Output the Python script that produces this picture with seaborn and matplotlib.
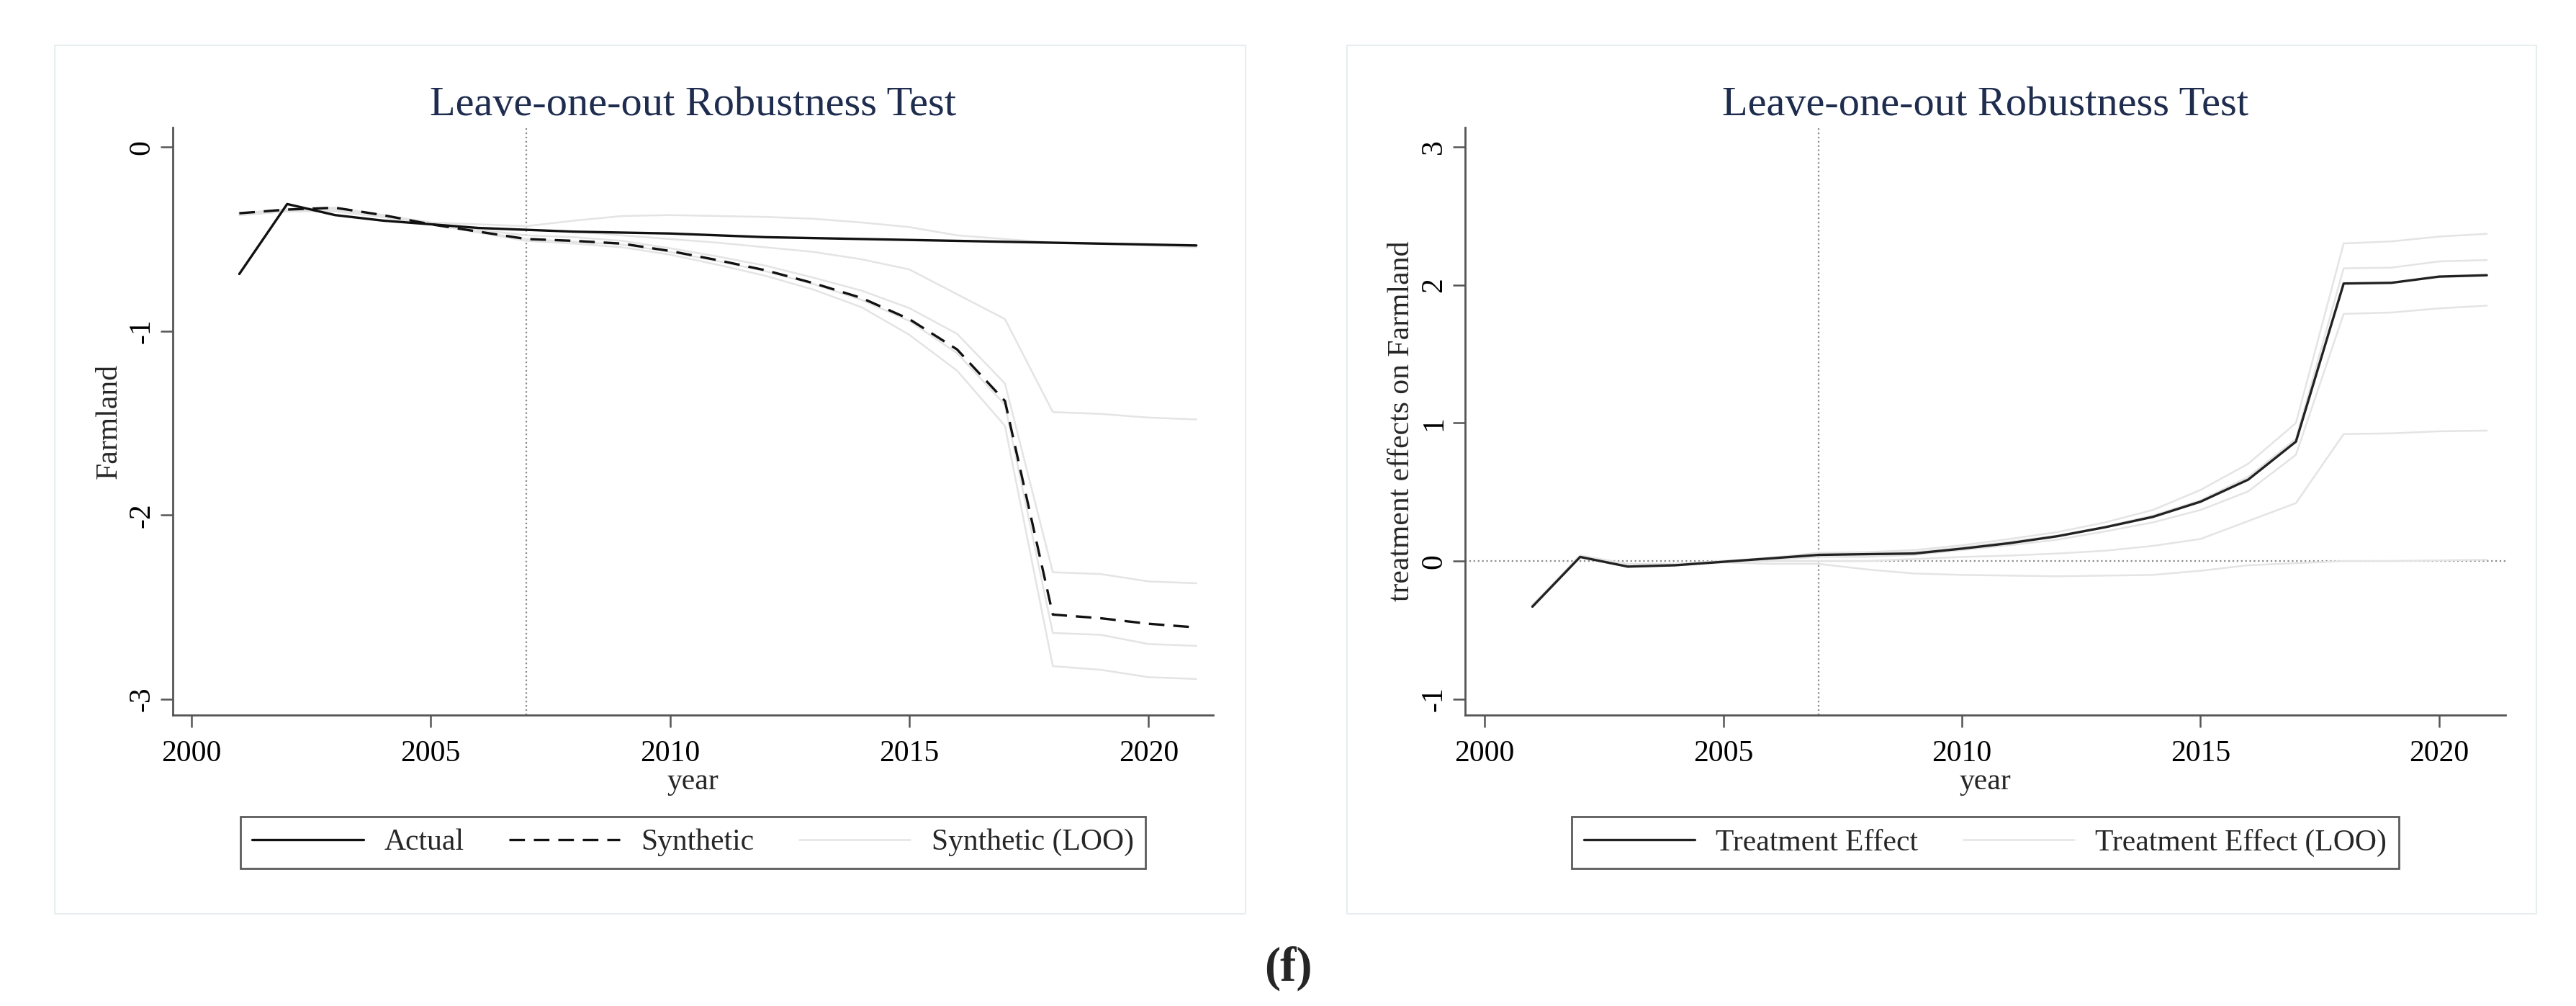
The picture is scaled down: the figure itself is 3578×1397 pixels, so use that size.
import numpy as np
import pandas as pd
import matplotlib
matplotlib.use("Agg")
import matplotlib.pyplot as plt
from matplotlib.lines import Line2D
from matplotlib.patches import Rectangle
import seaborn as sns

years = list(range(2001, 2022))

# left panel: Farmland, actual vs synthetic
actual = [-0.69, -0.31, -0.37, -0.40, -0.42, -0.44, -0.45, -0.46, -0.465, -0.47, -0.48,
          -0.49, -0.495, -0.50, -0.505, -0.51, -0.515, -0.52, -0.525, -0.53, -0.535]
synthetic = [-0.36, -0.34, -0.33, -0.37, -0.42, -0.46, -0.50, -0.51, -0.525, -0.565, -0.615,
             -0.67, -0.74, -0.82, -0.935, -1.10, -1.38, -2.54, -2.56, -2.59, -2.61]
loo_a = [-0.37, -0.35, -0.35, -0.38, -0.41, -0.42, -0.43, -0.40, -0.375, -0.37, -0.375,
         -0.38, -0.39, -0.41, -0.435, -0.48, -0.50, -0.52, -0.525, -0.535, -0.545]
loo_b = [-0.37, -0.34, -0.34, -0.38, -0.42, -0.44, -0.45, -0.46, -0.48, -0.50, -0.52,
         -0.545, -0.57, -0.61, -0.665, -0.80, -0.935, -1.44, -1.45, -1.47, -1.48]
loo_c = [-0.36, -0.34, -0.33, -0.37, -0.41, -0.45, -0.48, -0.49, -0.51, -0.55, -0.595,
         -0.645, -0.71, -0.78, -0.875, -1.015, -1.285, -2.31, -2.32, -2.36, -2.37]
loo_d = [-0.36, -0.34, -0.33, -0.37, -0.42, -0.46, -0.50, -0.515, -0.53, -0.57, -0.62,
         -0.675, -0.745, -0.83, -0.945, -1.12, -1.40, -2.64, -2.65, -2.70, -2.71]
loo_e = [-0.37, -0.35, -0.34, -0.38, -0.42, -0.465, -0.51, -0.525, -0.545, -0.585, -0.64,
         -0.70, -0.775, -0.87, -1.02, -1.215, -1.515, -2.82, -2.84, -2.88, -2.89]

# right panel: treatment effects
effect = [-0.33, 0.03, -0.04, -0.03, -0.005, 0.02, 0.045, 0.05, 0.055, 0.09, 0.13,
          0.18, 0.245, 0.32, 0.43, 0.59, 0.865, 2.01, 2.015, 2.06, 2.07]
eff_a = [-0.32, 0.04, -0.02, -0.02, -0.01, -0.02, -0.02, -0.06, -0.09, -0.10, -0.105,
         -0.11, -0.105, -0.10, -0.07, -0.03, -0.015, 0.0, 0.0, 0.005, 0.01]
eff_b = [-0.32, 0.03, -0.03, -0.02, 0.0, 0.0, 0.0, 0.0, 0.015, 0.03, 0.04,
         0.055, 0.075, 0.11, 0.16, 0.29, 0.42, 0.92, 0.925, 0.94, 0.945]
eff_c = [-0.33, 0.03, -0.04, -0.03, -0.01, 0.01, 0.03, 0.03, 0.045, 0.08, 0.115,
         0.155, 0.215, 0.28, 0.37, 0.505, 0.77, 1.79, 1.80, 1.83, 1.85]
eff_d = [-0.33, 0.03, -0.04, -0.03, 0.0, 0.02, 0.05, 0.055, 0.065, 0.10, 0.14,
         0.185, 0.25, 0.33, 0.44, 0.61, 0.885, 2.12, 2.125, 2.17, 2.18]
eff_e = [-0.32, 0.04, -0.03, -0.02, 0.0, 0.025, 0.06, 0.065, 0.08, 0.115, 0.16,
         0.21, 0.28, 0.37, 0.515, 0.705, 1.00, 2.30, 2.315, 2.35, 2.37]

treat_year = 2007
xticks = [2000, 2005, 2010, 2015, 2020]
left_yticks = [0, -1, -2, -3]
right_yticks = [3, 2, 1, 0, -1]

sns.set_style("ticks")
plt.rcParams['font.family'] = ['Liberation Serif', 'DejaVu Serif']
plt.rcParams['axes.unicode_minus'] = False

def long_form(runs):
    rows = []
    for k, vals in enumerate(runs):
        for yr, v in zip(years, vals):
            rows.append({'year': yr, 'value': v, 'run': k})
    return pd.DataFrame(rows)

loo_left = long_form([loo_a, loo_b, loo_c, loo_d, loo_e])
loo_right = long_form([eff_a, eff_b, eff_c, eff_d, eff_e])

W, H = 3578, 1397
fig = plt.figure(figsize=(W / 100, H / 100), dpi=100)
ax1 = fig.add_axes([240 / W, 1 - 993 / H, 1445 / W, 816 / H])
ax2 = fig.add_axes([2035 / W, 1 - 993 / H, 1445 / W, 816 / H])

gray = '#e4e4e4'
title_col = '#1e2c4e'
dash = (0, (6.5, 3.7))

# left
sns.lineplot(data=loo_left, x='year', y='value', units='run', estimator=None,
             color=gray, lw=1.8, ax=ax1)
ax1.axvline(treat_year, color='#8a8a8a', ls=':', lw=1.6, zorder=1)
sns.lineplot(x=years, y=actual, color='#111111', lw=2.4, ax=ax1)
sns.lineplot(x=years, y=synthetic, color='#111111', lw=2.4, linestyle=dash, ax=ax1)
ax1.set_xlim(1999.61, 2021.35)
ax1.set_ylim(-3.086, 0.106)
ax1.set_yticks(left_yticks)
ax1.set_ylabel('Farmland', fontsize=30, labelpad=5)

# right
sns.lineplot(data=loo_right, x='year', y='value', units='run', estimator=None,
             color=gray, lw=1.8, ax=ax2)
ax2.axvline(treat_year, color='#8a8a8a', ls=':', lw=1.6, zorder=1)
ax2.axhline(0, color='#8a8a8a', ls=':', lw=1.6, zorder=1)
sns.lineplot(x=years, y=effect, color='#222222', lw=2.4, ax=ax2)
ax2.set_xlim(1999.59, 2021.39)
ax2.set_ylim(-1.115, 3.14)
ax2.set_yticks(right_yticks)
ax2.set_ylabel('treatment effects on Farmland', fontsize=30, labelpad=5)

for ax in (ax1, ax2):
    ax.set_xticks(xticks)
    ax.set_xlabel('year', fontsize=30, labelpad=0)
    ax.set_title('Leave-one-out Robustness Test', fontsize=42, color=title_col, pad=12)
    for s in ('top', 'right'):
        ax.spines[s].set_visible(False)
    for s in ('left', 'bottom'):
        ax.spines[s].set_color('#555555')
        ax.spines[s].set_linewidth(2)
    ax.tick_params(axis='both', length=12, width=1.8, color='#555555',
                   labelsize=30, labelcolor='black')
    ax.tick_params(axis='x', pad=13)
    ax.tick_params(axis='y', pad=5, labelrotation=90)
    for lbl in ax.get_yticklabels():
        lbl.set_va('center')

h_act = Line2D([], [], color='#111111', lw=2.4)
h_syn = Line2D([], [], color='#111111', lw=2.4, linestyle=dash)
h_loo = Line2D([], [], color=gray, lw=1.8)
h_eff = Line2D([], [], color='#222222', lw=2.4)

leg_kw = dict(loc='center', ncol=3, fontsize=30, frameon=True, fancybox=False,
              handlelength=3.7, handletextpad=0.7, columnspacing=1.5, borderpad=0.4)
leg1 = ax1.legend([h_act, h_syn, h_loo], ['Actual', 'Synthetic', 'Synthetic (LOO)'],
                  bbox_to_anchor=(0.5, -0.217), **leg_kw)
leg2 = ax2.legend([h_eff, h_loo], ['Treatment Effect', 'Treatment Effect (LOO)'],
                  bbox_to_anchor=(0.5, -0.217), **leg_kw)
for leg in (leg1, leg2):
    leg.get_frame().set_edgecolor('#333333')
    leg.get_frame().set_linewidth(2)

# panel borders
for x0, x1 in ((76, 1730), (1871, 3523)):
    fig.add_artist(Rectangle((x0 / W, 1 - 1269 / H), (x1 - x0) / W, 1206 / H,
                             transform=fig.transFigure, fill=False,
                             edgecolor='#e6eef0', lw=1.5))

fig.text(1789 / W, 1 - 1345 / H, '(f)', ha='center', va='center',
         fontsize=48, fontweight='bold')

fig.savefig('out.png', dpi=100)
